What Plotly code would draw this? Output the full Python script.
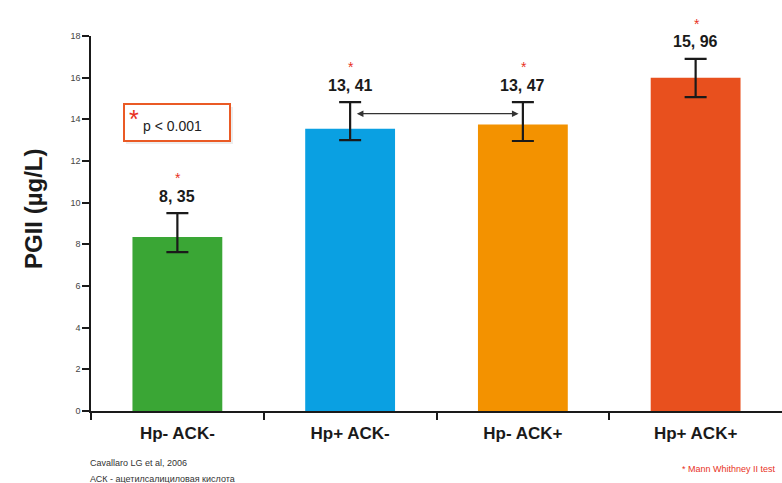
import plotly.graph_objects as go

categories = ["Hp- ACK-", "Hp+ ACK-", "Hp- ACK+", "Hp+ ACK+"]
bar_values = [8.35, 13.55, 13.75, 16.0]
value_labels = ["8, 35", "13, 41", "13, 47", "15, 96"]
err_plus = [1.15, 1.28, 1.08, 0.9]
err_minus = [0.72, 0.55, 0.79, 0.93]
colors = ["#3aa635", "#0aa0e2", "#f39200", "#e8501e"]
y_ticks = [0, 2, 4, 6, 8, 10, 12, 14, 16, 18]

FONT = "Liberation Sans, Arial, Helvetica, sans-serif"

fig = go.Figure()
fig.add_trace(go.Bar(
    x=list(range(len(categories))), y=bar_values, width=0.52,
    marker=dict(color=colors, line=dict(width=0)),
    error_y=dict(type="data", symmetric=False, array=err_plus, arrayminus=err_minus,
                 color="#1a1a1a", thickness=2.2, width=11),
    cliponaxis=False, showlegend=False,
))

for i, lab in enumerate(value_labels):
    top = bar_values[i] + err_plus[i]
    fig.add_annotation(x=i, y=top, yref="y", text=f"<b>{lab}</b>", showarrow=False,
                       yshift=17, font=dict(size=16, color="#1a1a1a", family=FONT))
    fig.add_annotation(x=i, y=top, yref="y", text="*", showarrow=False,
                       xshift=1, yshift=35, font=dict(size=14, color="#e8321e", family=FONT))

# double-headed arrow between Hp+ ACK- and Hp- ACK+
fig.add_annotation(x=2 - 0.025, y=14.27, ax=1 + 0.03, ay=14.27,
                   xref="x", yref="y", axref="x", ayref="y",
                   text="", showarrow=True, arrowhead=2, arrowside="end+start",
                   arrowsize=1.1, arrowwidth=1.2, arrowcolor="#333333", standoff=0, startstandoff=0)

# p-value box
def px_x(p):
    return (p - 91) / 691

def px_y(p):
    return (411 - p) / 375

fig.add_shape(type="rect", xref="paper", yref="paper",
              x0=px_x(126), x1=px_x(233), y0=px_y(144), y1=px_y(107),
              line=dict(width=0), fillcolor="rgba(0,0,0,0.07)", layer="below")
fig.add_shape(type="rect", xref="paper", yref="paper",
              x0=px_x(124), x1=px_x(230), y0=px_y(141), y1=px_y(104),
              line=dict(color="#ea5a25", width=2), fillcolor="white", layer="below")
fig.add_annotation(xref="paper", yref="paper", x=px_x(141), y=px_y(126),
                   xanchor="left", yanchor="middle", text="p < 0.001",
                   showarrow=False, font=dict(size=14, color="#222222", family=FONT))
fig.add_annotation(xref="paper", yref="paper", x=px_x(141), y=px_y(119),
                   xanchor="right", yanchor="middle", text="*",
                   showarrow=False, font=dict(size=25, color="#e8321e", family=FONT))

# y-axis title (placed as rotated text to match the reference position)
fig.add_annotation(xref="paper", yref="paper", x=px_x(33), y=px_y(209),
                   xanchor="center", yanchor="middle", textangle=-90,
                   text="<b>PGII (µg/L)</b>", showarrow=False,
                   font=dict(size=24, color="#1a1a1a", family=FONT))

# footer texts
fig.add_annotation(xref="paper", yref="paper", x=px_x(88), y=px_y(463),
                   xanchor="left", yanchor="middle", text="Cavallaro LG et al, 2006", showarrow=False,
                   font=dict(size=9, color="#333333", family=FONT))
fig.add_annotation(xref="paper", yref="paper", x=px_x(88), y=px_y(479),
                   xanchor="left", yanchor="middle", text="АСК - ацетилсалициловая кислота", showarrow=False,
                   font=dict(size=9, color="#333333", family=FONT))
fig.add_annotation(xref="paper", yref="paper", x=px_x(778), y=px_y(469),
                   xanchor="right", yanchor="middle", text="* Mann Whithney II test", showarrow=False,
                   font=dict(size=9, color="#e8321e", family=FONT))

fig.update_layout(
    width=782, height=483,
    margin=dict(l=91, r=0, t=36, b=72),
    paper_bgcolor="white", plot_bgcolor="white",
    font=dict(family=FONT, color="#1a1a1a"),
    xaxis=dict(range=[-0.5, 3.5], tickvals=list(range(len(categories))),
               ticktext=[f"<b>{c}</b>" for c in categories],
               showline=True, linecolor="#1a1a1a", linewidth=1.5,
               ticks="", showgrid=False, ticklabelstandoff=6,
               tickfont=dict(size=17, color="#1a1a1a", family=FONT), zeroline=False,
               minor=dict(tickvals=[0.5, 1.5, 2.5, -0.5], ticks="outside", ticklen=7,
                          tickwidth=1.5, tickcolor="#1a1a1a", showgrid=False)),
    yaxis=dict(range=[0, 18], tickvals=y_ticks, showline=True, linecolor="#1a1a1a", linewidth=1.5,
               ticks="outside", ticklen=7, tickwidth=1.5, tickcolor="#1a1a1a",
               tickfont=dict(size=9, color="#444444", family=FONT), showgrid=False, zeroline=False),
)

fig.write_html("out.html", config={"displayModeBar": False},
               post_script="document.body.style.margin='0';document.body.style.overflow='hidden';")
